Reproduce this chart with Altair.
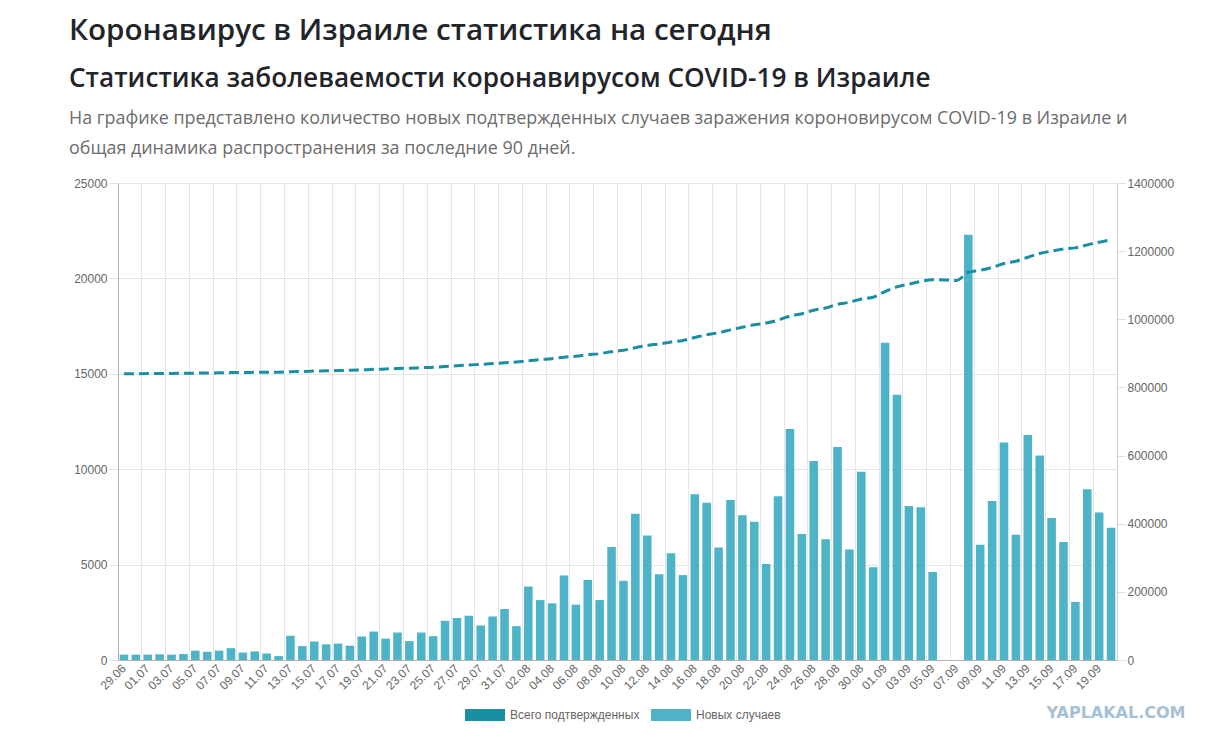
import altair as alt
import pandas as pd

heading_main = "Коронавирус в Израиле статистика на сегодня"
heading_sub = "Статистика заболеваемости коронавирусом COVID-19 в Израиле"
intro_line1 = ("На графике представлено количество новых подтвержденных случаев "
               "заражения короновирусом COVID-19 в Израиле и")
intro_line2 = "общая динамика распространения за последние 90 дней."
watermark = "YAPLAKAL.COM"

series_total = "Всего подтвержденных"
series_new = "Новых случаев"

dates = [
    "29.06", "30.06",
    "01.07", "02.07", "03.07", "04.07", "05.07", "06.07", "07.07", "08.07",
    "09.07", "10.07", "11.07", "12.07", "13.07", "14.07", "15.07", "16.07",
    "17.07", "18.07", "19.07", "20.07", "21.07", "22.07", "23.07", "24.07",
    "25.07", "26.07", "27.07", "28.07", "29.07", "30.07", "31.07",
    "01.08", "02.08", "03.08", "04.08", "05.08", "06.08", "07.08", "08.08",
    "09.08", "10.08", "11.08", "12.08", "13.08", "14.08", "15.08", "16.08",
    "17.08", "18.08", "19.08", "20.08", "21.08", "22.08", "23.08", "24.08",
    "25.08", "26.08", "27.08", "28.08", "29.08", "30.08", "31.08",
    "01.09", "02.09", "03.09", "04.09", "05.09", "06.09", "07.09", "08.09",
    "09.09", "10.09", "11.09", "12.09", "13.09", "14.09", "15.09", "16.09",
    "17.09", "18.09", "19.09", "20.09",
]

new_cases = [
    280, 280, 280, 300, 280, 320, 490, 430, 490, 620, 390, 450, 340, 205,
    1270, 730, 970, 820, 860, 750, 1230, 1490, 1120, 1440, 990, 1440, 1250, 2055,
    2200, 2320, 1810, 2280, 2670, 1775, 3850, 3140, 2970, 4430, 2900, 4200, 3140, 5920,
    4150, 7660, 6520, 4500, 5600, 4450, 8690, 8240, 5890, 8390, 7590, 7250, 5030, 8580,
    12110, 6600, 10430, 6330, 11170, 5790, 9870, 4860, 16630, 13900, 8070, 8000, 4615, 0,
    0, 22290, 6035, 8330, 11400, 6560, 11790, 10720, 7440, 6185, 3045, 8950, 7730, 6930,
]

total_cases = [
    840000, 840300, 840600, 840900, 841200, 841500, 842000, 842400, 842900, 843500,
    843900, 844300, 844700, 844900, 846200, 846900, 847900, 848700, 849600, 850300,
    851500, 853000, 854100, 855600, 856600, 858000, 859300, 861300, 863500, 865800,
    867700, 869900, 872600, 874400, 878200, 881400, 884300, 888800, 891700, 895800,
    899000, 904900, 909000, 916700, 923200, 927700, 933300, 937800, 946500, 954700,
    960600, 969000, 976600, 983800, 988900, 997500, 1009600, 1016200, 1026600, 1032900,
    1044100, 1049900, 1059800, 1064600, 1081300, 1095200, 1103200, 1111200, 1115800, 1115600,
    1114000, 1138000, 1144000, 1152400, 1163800, 1170400, 1182200, 1192900, 1200300, 1206500,
    1209600, 1218500, 1226300, 1233200,
]

left_ticks = [0, 5000, 10000, 15000, 20000, 25000]
right_ticks = [0, 200000, 400000, 600000, 800000, 1000000, 1200000, 1400000]
label_dates = dates[::2]

BAR_COLOR = "#4db3c6"
LINE_COLOR = "#1a8ea3"
AXIS_FONT = "Liberation Sans"
HEAD_FONT = "Open Sans"

df = pd.DataFrame({"date": dates, "new": new_cases, "total": total_cases})
df["s_new"] = series_new
df["s_total"] = series_total

color_scale = alt.Scale(domain=[series_total, series_new], range=[LINE_COLOR, BAR_COLOR])
legend = alt.Legend(
    title=None, orient="none", direction="horizontal", legendX=347, legendY=512,
    symbolType="M-1,-0.3L1,-0.3L1,0.3L-1,0.3Z", symbolSize=1600, symbolStrokeWidth=0,
    symbolOpacity=1, labelFont=AXIS_FONT, labelFontSize=12, labelColor="#666666",
    labelOffset=5, columnPadding=11, padding=0,
)

x_scale = alt.Scale(domain=dates, paddingInner=0.28, paddingOuter=0.14)

bars = alt.Chart(df).mark_bar(color=BAR_COLOR).encode(
    x=alt.X("date:N", sort=dates, scale=x_scale, axis=alt.Axis(
        title=None, values=label_dates, labelAngle=-45, labelAlign="right",
        labelBaseline="middle", labelFont=AXIS_FONT, labelFontSize=12,
        labelColor="#666666", ticks=False, grid=False, domainColor="#b3b3b3",
        labelPadding=6, labelOverlap=False)),
    y=alt.Y("new:Q", scale=alt.Scale(domain=[0, 25000], nice=False), axis=alt.Axis(
        title=None, orient="left", values=left_ticks, format="d", grid=True,
        gridColor="#e6e6e6", domainColor="#b3b3b3", tickColor="#e0e0e0", tickSize=9,
        labelFont=AXIS_FONT, labelFontSize=12, labelColor="#666666", labelPadding=2)),
    color=alt.Color("s_new:N", scale=color_scale, legend=legend),
)

line = alt.Chart(df).mark_line(
    strokeWidth=3, strokeDash=[10, 5], interpolate="monotone"
).encode(
    x=alt.X("date:N", sort=dates, axis=alt.Axis(
        title=None, values=label_dates, labels=False, ticks=False, domain=False,
        grid=True, gridColor="#e6e6e6", bandPosition=-0.1944)),
    y=alt.Y("total:Q", scale=alt.Scale(domain=[0, 1400000], nice=False), axis=alt.Axis(
        title=None, orient="right", values=right_ticks, format="d", grid=False,
        domainColor="#d0d0d0", tickColor="#e0e0e0", tickSize=8,
        labelFont=AXIS_FONT, labelFontSize=12, labelColor="#666666", labelPadding=2)),
    color=alt.Color("s_total:N", scale=color_scale, legend=legend),
)


def text_layer(txt, x, y, size, weight, color, font, align="left"):
    return alt.Chart(pd.DataFrame({"t": [txt]})).mark_text(
        align=align, baseline="alphabetic", font=font, fontSize=size,
        fontWeight=weight, color=color,
    ).encode(text="t:N", x=alt.value(x), y=alt.value(y))


t1 = text_layer(heading_main, -49, -143, 29.6, 600, "#212529", HEAD_FONT)
t2 = text_layer(heading_sub, -49, -96, 26.2, 600, "#212529", HEAD_FONT)
t3 = text_layer(intro_line1, -49, -59, 17.9, 400, "#6c6c6c", HEAD_FONT)
t4 = text_layer(intro_line2, -49, -29, 17.9, 400, "#6c6c6c", HEAD_FONT)
wm = text_layer(watermark, 998, 535, 16, "bold", "#a6c1d5", "DejaVu Sans", align="center")

chart = alt.layer(bars, line, t1, t2, t3, t4, wm).resolve_scale(
    y="independent"
).resolve_axis(
    x="independent"
).properties(
    width=999, height=477,
    autosize=alt.AutoSizeParams(type="none"),
    padding={"left": 110, "top": 175, "right": 75, "bottom": 65},
).configure_view(stroke=None).configure(background="white")

chart.save("out.html", embed_options={"renderer": "svg", "actions": False})
